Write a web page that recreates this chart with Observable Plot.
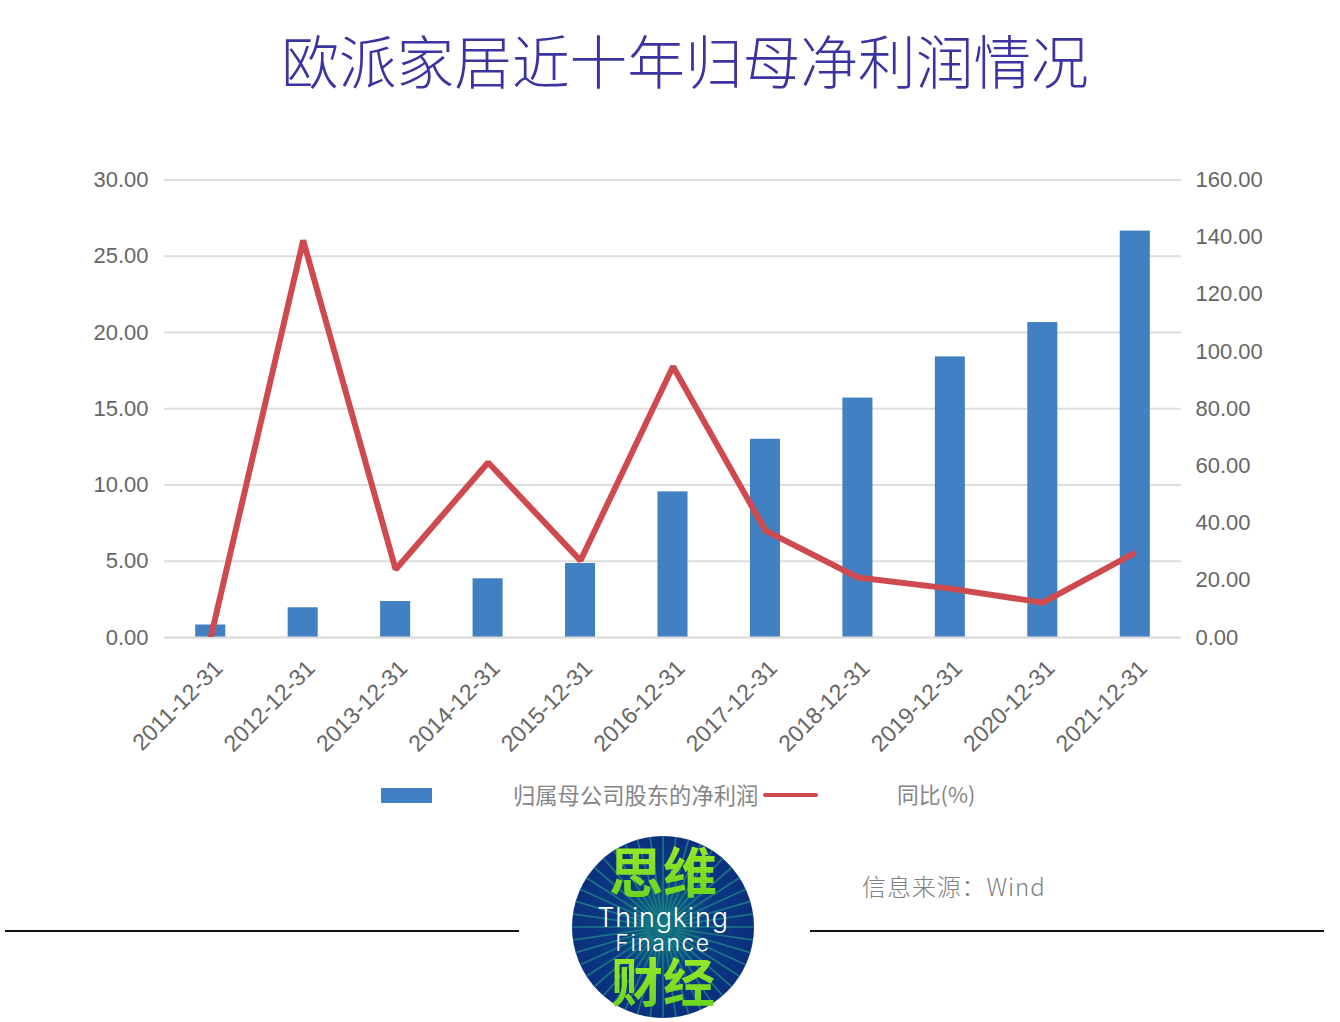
<!DOCTYPE html>
<html lang="zh">
<head>
<meta charset="utf-8">
<script src="https://cdn.jsdelivr.net/npm/d3@7"></script>
<script src="https://cdn.jsdelivr.net/npm/@observablehq/plot@0.6"></script>
<style>
html,body{margin:0;padding:0;background:#fff;}
#page{position:relative;width:1340px;height:1022px;overflow:hidden;font-family:"Noto Sans CJK SC","Noto Sans",sans-serif;}
#page>*{position:absolute;}
#title{left:0;width:1370px;top:21px;text-align:center;font-size:57.7px;line-height:76px;color:#3b34a0;font-weight:300;white-space:nowrap;}
#chart{left:0;top:130px;}
.lg{font-size:22.3px;line-height:30px;color:#858585;white-space:nowrap;font-weight:400;}
#swatchBar{left:381px;top:788px;width:51px;height:15px;background:#4180c3;}
#swatchLine{left:763px;top:793px;width:55px;height:4px;background:#cf4a4f;border-radius:2px;}
#lg1{left:513px;top:779px;}
#lg2{left:897px;top:779px;font-size:21.8px;}
#source{left:862px;top:870px;font-size:24px;line-height:32px;color:#808080;white-space:nowrap;font-family:"Noto Sans CJK SC","Noto Sans",sans-serif;font-weight:300;letter-spacing:.9px;}
.rule{height:2px;width:514px;top:930px;background:#111;}
#logo{left:552px;top:816px;}
</style>
</head>
<body>
<div id="page">
  <div id="title">欧派家居近十年归母净利润情况</div>
  <div id="chart"></div>
  <div id="swatchBar"></div>
  <div id="lg1" class="lg">归属母公司股东的净利润</div>
  <div id="swatchLine"></div>
  <div id="lg2" class="lg">同比(%)</div>
  <div id="source">信息来源：Wind</div>
  <div class="rule" style="left:5px"></div>
  <div class="rule" style="left:810px"></div>
  <svg id="logo" width="222" height="206" viewBox="-111 -111 222 206"></svg>
</div>
<script>
const dates = ["2011-12-31","2012-12-31","2013-12-31","2014-12-31","2015-12-31","2016-12-31","2017-12-31","2018-12-31","2019-12-31","2020-12-31","2021-12-31"];
const netProfit = [0.82,1.95,2.36,3.85,4.85,9.55,13.0,15.7,18.4,20.65,26.65];
const yoy = [0,138.9,23.8,61.2,26.9,94.8,37.4,21.0,17.1,12.2,29.7];
const leftTicks = [0,5,10,15,20,25,30];
const rightTicks = [0,20,40,60,80,100,120,140,160];
const ratio = 30/160;

const barRows = dates.map((date,i)=>({date,value:netProfit[i]}));
const lineRows = dates.map((date,i)=>({date,value:yoy[i]*ratio}));
const fmt = d=>d.toFixed(2);

const plot = Plot.plot({
  width:1340,height:640,
  marginLeft:164,marginRight:159,marginTop:49.5,marginBottom:133,
  style:{fontFamily:"'Liberation Sans',Arial,sans-serif",fontSize:"22px",color:"#666",background:"transparent",overflow:"visible"},
  x:{type:"band",domain:dates,paddingInner:0.675,paddingOuter:0.3375,align:0.5,round:false},
  y:{domain:[0,30]},
  marks:[
    Plot.gridY(leftTicks,{stroke:"#dedede",strokeWidth:2,strokeOpacity:1}),
    Plot.barY(barRows,{x:"date",y:"value",fill:"#4180c3"}),
    Plot.ruleY([0],{stroke:"#dedede",strokeWidth:2}),
    Plot.line(lineRows,{x:"date",y:"value",stroke:"#cf4a4f",strokeWidth:6,strokeLinejoin:"miter",strokeLinecap:"butt",clip:true}),
    Plot.axisY(leftTicks,{anchor:"left",tickSize:0,tickPadding:16,tickFormat:fmt,label:null,fill:"#666"}),
    Plot.axisY(rightTicks.map(d=>d*ratio),{anchor:"right",tickSize:0,tickPadding:14,tickFormat:d=>fmt(d/ratio),label:null,fill:"#666"}),
    Plot.axisX(dates,{anchor:"bottom",tickSize:0,tickRotate:-45,tickPadding:27,dx:8,label:null,fill:"#666",fontSize:23})
  ]
});
document.getElementById("chart").append(plot);

// Logo badge
const logo = d3.select("#logo");
const defs = logo.append("defs");
const rg = defs.append("radialGradient").attr("id","badge");
[[0,"#13807f"],[.22,"#0d5f80"],[.55,"#0a3a82"],[1,"#0a2f7e"]].forEach(([o,c])=>rg.append("stop").attr("offset",o).attr("stop-color",c));
const lg = defs.append("linearGradient").attr("id","leaf").attr("x1",0).attr("y1",0).attr("x2",0).attr("y2",1);
lg.append("stop").attr("offset",0).attr("stop-color","#a6ee2a");
lg.append("stop").attr("offset",1).attr("stop-color","#62d01e");
defs.append("clipPath").attr("id","disc").append("circle").attr("r",91);
logo.append("circle").attr("r",91).attr("fill","url(#badge)");
const rays = logo.append("g").attr("clip-path","url(#disc)");
d3.range(44).forEach(i=>{
  const a = i/44*2*Math.PI;
  rays.append("line").attr("x1",14*Math.cos(a)).attr("y1",14*Math.sin(a)).attr("x2",92*Math.cos(a)).attr("y2",92*Math.sin(a))
    .attr("stroke","#1e7f86").attr("stroke-width",1.7).attr("stroke-opacity",.85);
});
const tx = (s,x,y,size,fill,extra={})=>{
  const t = logo.append("text").attr("x",x).attr("y",y).attr("text-anchor","middle").attr("font-size",size).attr("fill",fill).text(s);
  Object.entries(extra).forEach(([k,v])=>t.attr(k,v));
};
const cjk = {"font-family":"'Noto Sans CJK SC',sans-serif","font-weight":700};
tx("思维",0,-34,54,"url(#leaf)",cjk);
tx("财经",0,75,52,"url(#leaf)",cjk);
tx("Thingking",0,0,27,"#fff",{"font-family":"Inter,'DejaVu Sans',sans-serif","font-weight":300,"letter-spacing":"0.8px"});
tx("Finance",0,24,23,"#fff",{"font-family":"Inter,'DejaVu Sans',sans-serif","font-weight":300,"letter-spacing":"1.5px"});
</script>
</body>
</html>
